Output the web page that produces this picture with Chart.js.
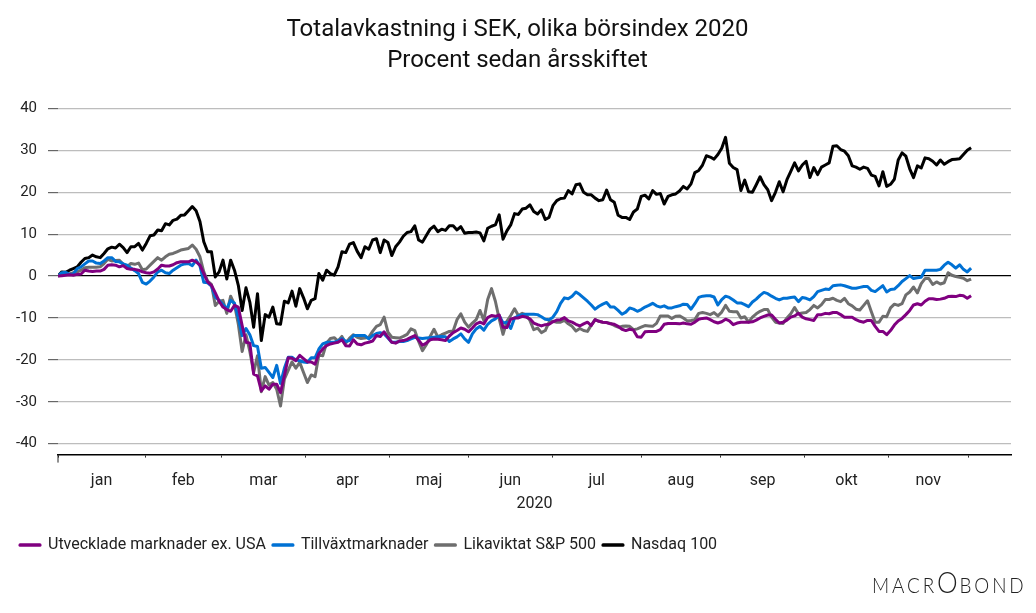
<!DOCTYPE html>
<html>
<head>
<meta charset="utf-8">
<script src="https://cdn.jsdelivr.net/npm/chart.js@4"></script>
<style>
  body { margin: 0; background: #fff; overflow: hidden; }
  #wrap { position: relative; width: 1036px; height: 613px; }
  #logo { position: absolute; left: 872px; top: 572px; font: 300 21px Lato, sans-serif; letter-spacing: 3.2px; color: #222; white-space: nowrap; transform: scaleX(.9); transform-origin: left top; }
  #logo span { font-size: 29px; line-height: 20px; letter-spacing: 2px; }
</style>
</head>
<body>
<div id="wrap">
  <canvas id="chart" width="1036" height="613"></canvas>
  <div id="logo">MACR<span>O</span>BOND</div>
</div>
<script>
const titleLines = ['Totalavkastning i SEK, olika börsindex 2020', 'Procent sedan årsskiftet'];
const yearLabel = '2020';
const months = ['jan', 'feb', 'mar', 'apr', 'maj', 'jun', 'jul', 'aug', 'sep', 'okt', 'nov'];
// where each month starts along the series index (last one is december)
const monthStarts = [0, 22.7, 42.6, 64.5, 86.4, 107, 128.8, 152, 172.7, 194.6, 216.5, 237.2];
const yTicks = [-40, -30, -20, -10, 0, 10, 20, 30, 40];

const developed = [
  0,0.1,0.2,0.3,0.2,0.4,0.5,1.4,1.2,1.1,
  1.2,1.2,1.6,2.6,2.7,2.6,2.2,2.5,1.8,1.6,
  1.6,1.4,1,0.8,0.7,1,1.7,2.6,2.4,2.4,
  2.7,3.2,3.4,3.4,3.4,3.8,3.4,2.6,0.6,-1.4,
  -2.2,-4,-6,-7.4,-8,-8.4,-7,-7.4,-11.8,-15.8,
  -16,-23.4,-23.8,-27.4,-26.2,-27,-25.8,-25.8,-27.8,-23.8,
  -19.5,-19.6,-20.2,-18.9,-19.7,-20.5,-20.5,-21,-18.5,-17.4,
  -16.6,-16.2,-16,-15.8,-15.2,-16.6,-16.7,-15.2,-16.2,-16.4,
  -16,-15.8,-15.5,-14.2,-14.4,-13.3,-14.6,-15.8,-16,-15.5,
  -15.4,-15.1,-14.6,-14.2,-15.3,-16.5,-16,-15.2,-15,-15.1,
  -15.2,-15.4,-14.3,-13.5,-13,-12.4,-12.7,-13.3,-12.4,-11.4,
  -11,-11.4,-9.9,-9.4,-9.6,-9.3,-12.2,-12.3,-10.3,-10,
  -10,-9.6,-9.8,-10.2,-11.2,-11.6,-11.9,-11.6,-11.5,-10.9,
  -10.5,-10.4,-9.9,-10.7,-11,-11.5,-11.9,-11.4,-11,-11.8,
  -10.4,-10.8,-11,-11.1,-11.4,-11.5,-12,-12.7,-13,-12.7,
  -12.9,-14.5,-14.6,-13.3,-13.2,-13.2,-13.2,-12.8,-11.5,-11.3,
  -11.3,-11.3,-11.4,-11.2,-11.4,-11.5,-11,-10.3,-10.1,-10,
  -10.4,-10.9,-11.2,-10.9,-10.3,-10.7,-11.6,-11.2,-11,-11,
  -11,-10.9,-10.5,-10,-9.6,-9.3,-9.3,-10.3,-11.2,-11,
  -10.5,-9.8,-9.5,-8.9,-9.8,-10.2,-10.4,-10.6,-9.2,-9.2,
  -8.9,-9,-8.7,-8.7,-9.2,-9.8,-9.8,-9.8,-10.4,-10.8,
  -11,-10.6,-10.6,-12,-13.2,-13.2,-14,-13,-11.7,-10.7,
  -10.1,-9.2,-8.2,-6.9,-6.6,-6.9,-6,-5.4,-5.4,-5.6,
  -5.5,-5.3,-4.9,-4.8,-4.9,-4.6,-4.7,-5.3,-4.7
];
const emerging = [
  0,0.8,0.9,0.4,0.5,1.8,2.2,2.9,3.6,3.6,
  3.1,3,3.6,4.4,4.4,3.5,3.4,2.9,2.6,1.9,
  1.3,0.6,-1.5,-1.9,-1.2,-0.2,1,1.4,0.8,0.6,
  1.4,2,2.6,2.9,3,2.5,3.8,2.4,-1.5,-1.6,
  -2.4,-5,-5.8,-6.8,-7.8,-5.8,-6.5,-10,-14.2,-12.5,
  -14,-16.6,-16.8,-22,-21.8,-23,-24.2,-21.3,-25.6,-22,
  -19.4,-19.4,-20,-20.2,-20.5,-20.6,-19.5,-19.5,-17.4,-16.2,
  -15.8,-15.8,-15.8,-15.5,-14.9,-15.6,-15.4,-14.2,-14.2,-14.2,
  -14.2,-15,-14.2,-13.7,-13.5,-13.8,-14.8,-15.8,-15.8,-15.6,
  -15.6,-15.4,-15,-14.6,-14.8,-14.9,-14.8,-14.7,-14.6,-14.5,
  -14.4,-14.5,-15.6,-15,-14.5,-13.8,-15,-15.8,-13.8,-12.6,
  -12,-12.9,-11.5,-10.7,-10.2,-9.4,-11.2,-11,-12.5,-10,
  -9.5,-9.2,-9.1,-9.1,-9.1,-9.2,-9.7,-10.3,-10.4,-9.8,
  -8.5,-6.5,-5.2,-5.4,-4.8,-3.8,-4.4,-5.2,-6,-6.9,
  -7.9,-7.2,-6.7,-6.3,-7.4,-7.4,-8.2,-9.1,-8.6,-7.6,
  -7.9,-8.4,-8,-7.4,-7,-6.5,-7.1,-7.4,-7.1,-7.6,
  -7.6,-7.3,-7.1,-6.7,-6.8,-7.9,-6.6,-5.1,-4.8,-4.7,
  -4.7,-5,-6.9,-5.6,-4.8,-5.1,-5.7,-6.4,-6.4,-6.8,
  -7.3,-6.2,-5.5,-4.6,-3.9,-4.2,-4.8,-5.3,-5.7,-5.3,
  -5.3,-5.1,-5,-6.1,-5.1,-5.3,-5.7,-4.9,-3.7,-3.4,
  -3.1,-3.2,-2.3,-2.2,-2.1,-2.3,-2.6,-2.9,-2.9,-2.7,
  -2.5,-2.5,-3.4,-3.7,-3,-2.3,-3.8,-3.2,-3.1,-2.3,
  -1.3,-0.6,0.1,-0.6,-0.4,-0.3,1.4,1.4,1.4,1.4,
  1.6,2.6,3.3,2.7,1.9,2.7,1.6,1,1.9
];
const equalWeight = [
  0,0.3,0.5,0.5,0.8,1,1.4,2,2.1,2.1,
  2.1,2.2,3,4,3.6,3.7,3.8,2.8,2.2,3,
  2.8,3.1,1.5,1.7,2.6,3.5,4.4,3.8,4.6,5.2,
  5.4,5.8,6.2,6.4,6.6,7.4,6.4,4.6,1,-1.2,
  -2,-7,-6,-5.8,-8.9,-4.8,-6.8,-11.5,-18,-14,
  -18,-23,-19,-27.6,-24,-26,-25.4,-27,-31,-24.6,
  -22.5,-20.5,-22,-20.6,-23,-25.4,-23.6,-24,-18.8,-19,
  -16,-14.9,-14.7,-15.5,-14.4,-16,-14.8,-14,-14.6,-14.9,
  -14.8,-14.6,-13.2,-12,-11.6,-9.8,-13.4,-14.6,-14.7,-14.8,
  -14.4,-13.9,-12.6,-13,-15.6,-17.8,-16.4,-14.4,-12.7,-14.5,
  -14,-13.6,-13.2,-13.1,-10.4,-9,-11,-12.2,-11.2,-10.4,
  -8.2,-10.6,-5.6,-3,-6,-10.2,-13.9,-10.8,-9.4,-7.8,
  -9.4,-8.9,-9.2,-10.6,-12.8,-12.4,-13.5,-13,-11,-10.8,
  -11,-11,-10.6,-11.4,-12,-13.1,-12.5,-13,-13.2,-11.7,
  -10.4,-10.8,-11,-11.1,-11.3,-11.8,-12.2,-12,-11.9,-12,
  -12.8,-12.6,-12.2,-11.8,-11.9,-12,-11.3,-9.5,-9.5,-9.5,
  -10.1,-9.6,-9.5,-10,-10.7,-10.6,-10.4,-8.9,-8.7,-8.9,
  -9.2,-8.7,-9.5,-8.6,-7,-8.4,-8.5,-8.5,-10,-9.7,
  -11,-9.8,-9,-8.4,-8,-8,-9.8,-11,-11.2,-11.3,
  -10,-9,-7.5,-9,-8.8,-8.7,-8,-7,-7.6,-6.8,
  -5.6,-5.6,-5.3,-5.8,-6.1,-5.3,-6.6,-7.1,-7.9,-8.1,
  -7,-5.9,-8.5,-11,-11,-9.6,-9.7,-7.6,-6.7,-7,
  -6.6,-4.5,-3.8,-2.6,-4,-1.8,-0.6,-0.6,-2,-1.4,
  -1.9,-1.6,0.8,0.2,-0.1,-0.3,-0.5,-1.1,-0.7
];
const nasdaq = [
  0,1,0.9,1.4,1.8,2.2,3.3,4.2,4.4,5,
  4.6,4.4,5.4,6.5,6.9,6.7,7.6,6.8,5.6,7,
  7,7.8,6.2,7.8,9.6,9.8,11,10.8,12.5,12.2,
  13.3,13.6,14.5,14.6,15.6,16.6,15.6,13,8.2,5.8,
  5.8,-0.2,1,3.8,-0.7,3.8,1.4,-2.2,-8.2,-2.8,
  -6.2,-12.2,-4.2,-15.4,-9.2,-9.8,-7.4,-11.4,-11.5,-6,
  -6.4,-3.6,-7.2,-3,-5.2,-7.8,-5.8,-5.4,0.6,-1,
  1.4,0.6,0.2,2.2,5.8,5.6,7.6,8,5.9,4.4,
  7,6.4,8.6,8.9,5.6,8.6,8,4.9,7,8.1,
  9.5,10.4,10.6,12,8.6,8.1,9.7,11.2,11.9,10.6,
  11.2,10.9,12,12,11,11.8,10.2,10.4,10.4,10.5,
  10.3,8.4,11.4,11.9,12.2,14.6,8.8,10.8,12.2,14.9,
  14.7,16,16.2,17,15.4,14.8,15.8,13.5,14,16.8,
  18,18.5,18.6,20.4,19.6,21.8,22,20,19.4,19.4,
  18.6,18,18.2,20.5,18.2,17.6,14.5,14,14,13.5,
  15.3,16,19,19.3,18.4,20.4,19.5,19.7,17.2,19,
  19.4,19.6,20.3,21.4,20.8,22,24.7,25.2,26.5,28.7,
  28.4,27.9,29,30.5,33.1,26.9,25.9,25.4,20.4,22.9,
  20.1,20,21.8,23.7,21.8,20.6,18,20,22.5,20.1,
  23,25,27,25.1,26.5,27.4,23.5,25.9,24.2,26,
  26.5,27,31,31.1,30.2,29.8,28.7,26.3,26,25.5,
  26,25.7,24.1,23.8,21.5,24.9,21.4,21.9,23.1,27.7,
  29.4,28.6,25.6,23.5,26.3,25.8,28.2,28,27.4,26.5,
  27.7,26.7,27.3,27.8,27.9,28,29,30,30.6
];

const toPoints = arr => arr.map((v, i) => ({ x: i, y: v }));
const makeSet = (label, values, color) => ({
    label: label,
    data: toPoints(values),
    borderColor: color,
    backgroundColor: color,
    borderWidth: 3,
    pointRadius: 0,
    borderJoinStyle: 'round',
    tension: 0
});

const font = 'Roboto, sans-serif';
const xMax = 248.4;
const monthMids = months.map((m, i) => (monthStarts[i] + monthStarts[i + 1]) / 2);

// the first x tick runs further down than the others, and the title
// is centred on the page rather than between the layout paddings
const axisTweaks = {
    id: 'axisTweaks',
    afterLayout(chart) {
        chart.titleBlock.right += 11;
    },
    afterDraw(chart) {
        const sx = chart.scales.x, ctx = chart.ctx;
        const px = sx.getPixelForValue(0);
        ctx.save();
        ctx.strokeStyle = '#222';
        ctx.lineWidth = 1;
        ctx.beginPath();
        ctx.moveTo(px, chart.chartArea.bottom);
        ctx.lineTo(px, chart.chartArea.bottom + 8);
        ctx.stroke();
        ctx.restore();
    }
};

new Chart(document.getElementById('chart'), {
    type: 'line',
    data: {
        datasets: [
            makeSet('Utvecklade marknader ex. USA', developed, '#800080'),
            makeSet('Tillväxtmarknader', emerging, '#0071d4'),
            makeSet('Likaviktat S&P 500', equalWeight, '#6e6e6e'),
            makeSet('Nasdaq 100', nasdaq, '#000000')
        ]
    },
    options: {
        responsive: false,
        animation: false,
        layout: { padding: { left: 13, right: 25, top: 8, bottom: 50 } },
        plugins: {
            title: {
                display: true,
                text: titleLines,
                color: '#111',
                font: { family: font, size: 24, weight: 'normal', lineHeight: 1.28 },
                padding: { top: 7, bottom: 32 }
            },
            legend: {
                position: 'bottom',
                align: 'start',
                labels: {
                    color: '#222',
                    font: { family: font, size: 16 },
                    boxWidth: 20,
                    boxHeight: 0.5,
                    padding: 7
                }
            },
            tooltip: { enabled: false }
        },
        scales: {
            x: {
                type: 'linear',
                min: 0,
                max: xMax,
                afterBuildTicks: s => { s.ticks = monthStarts.map(v => ({ value: v })); },
                ticks: { display: false },
                grid: { drawOnChartArea: false, tickLength: 3, tickColor: '#333', lineWidth: 1 },
                border: { display: true, color: '#000', width: 1.5 }
            },
            xMonths: {
                type: 'linear',
                position: 'bottom',
                min: 0,
                max: xMax,
                afterBuildTicks: s => { s.ticks = monthMids.map(v => ({ value: v })); },
                ticks: {
                    autoSkip: false,
                    maxRotation: 0,
                    color: '#222',
                    font: { family: font, size: 16 },
                    padding: 14,
                    callback: v => months[monthMids.indexOf(v)]
                },
                grid: { display: false, drawTicks: false },
                border: { display: false },
                title: { display: true, text: yearLabel, color: '#222', font: { family: font, size: 16 }, padding: { top: -10, bottom: 16 } }
            },
            y: {
                min: -42.6,
                max: 40,
                afterBuildTicks: s => { s.ticks = yTicks.map(v => ({ value: v })); },
                afterFit: s => { s.width = 45; },
                ticks: { color: '#222', font: { family: font, size: 15 }, padding: 11 },
                grid: {
                    color: c => (c.tick && c.tick.value === 0 ? '#000' : '#bdbdbd'),
                    tickColor: '#666',
                    tickLength: 10,
                    lineWidth: 1.2
                },
                border: { display: false }
            }
        }
    },
    plugins: [axisTweaks]
});
</script>
</body>
</html>
